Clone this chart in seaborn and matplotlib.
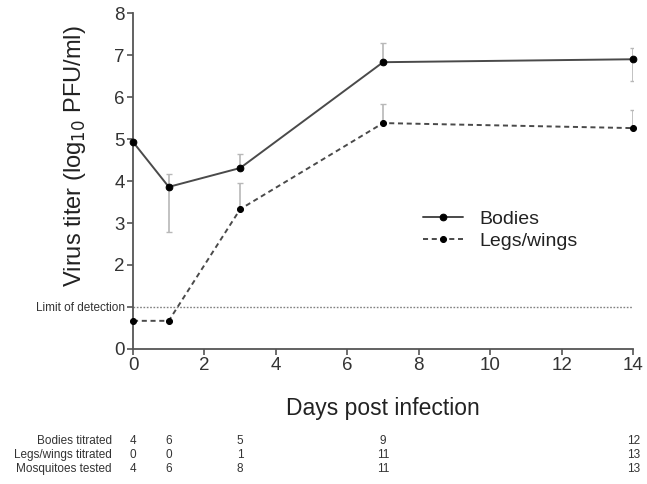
import numpy as np
import pandas as pd
import seaborn as sns
import matplotlib.pyplot as plt

# --- data ---
days = [0, 1, 3, 7, 14]
bodies = [4.93, 3.86, 4.31, 6.83, 6.90]
bodies_err_lo = [0.0, 1.07, 0.0, 0.0, 0.52]
bodies_err_hi = [0.0, 0.31, 0.33, 0.46, 0.26]
legs = [0.67, 0.67, 3.33, 5.38, 5.26]
legs_err_lo = [0.0, 0.0, 0.0, 0.0, 0.0]
legs_err_hi = [0.0, 0.0, 0.62, 0.45, 0.43]
limit_of_detection = 1.0

row_labels = ["Bodies titrated", "Legs/wings titrated", "Mosquitoes tested"]
bodies_titrated = [4, 6, 5, 9, 12]
legs_titrated = [0, 0, 1, 11, 13]
mosq_tested = [4, 6, 8, 11, 13]

sns.set_theme(style="ticks")
plt.rcParams['font.family'] = ['Liberation Sans', 'DejaVu Sans']

df = pd.DataFrame({
    'day': days * 2,
    'titer': bodies + legs,
    'sample': ['Bodies'] * len(days) + ['Legs/wings'] * len(days),
})

fig = plt.figure(figsize=(6.47, 4.84), dpi=100)
ax = fig.add_axes([0.2056, 0.279, 0.773, 0.694])

# error bars (light grey, drawn first)
ax.errorbar(days, bodies, yerr=[bodies_err_lo, bodies_err_hi], fmt='none',
            ecolor='#b8b8b8', elinewidth=1.2, capsize=2.2, capthick=1.0, zorder=2)
ax.errorbar(days, legs, yerr=[legs_err_lo, legs_err_hi], fmt='none',
            ecolor='#b8b8b8', elinewidth=1.2, capsize=2.2, capthick=1.0, zorder=2)

# limit of detection
ax.axhline(limit_of_detection, color='#808080', lw=1.0, ls=(0, (1.2, 1.2)), zorder=1)

sns.lineplot(data=df[df['sample'] == 'Bodies'], x='day', y='titer', ax=ax,
             color='#4a4a4a', lw=1.4, marker='o', markersize=4.8,
             markerfacecolor='black', markeredgecolor='black',
             label='Bodies', clip_on=False, zorder=3)
sns.lineplot(data=df[df['sample'] == 'Legs/wings'], x='day', y='titer', ax=ax,
             color='#4a4a4a', lw=1.4, marker='o', markersize=4.3,
             markerfacecolor='black', markeredgecolor='black',
             linestyle=(0, (2.6, 1.9)), label='Legs/wings', clip_on=False, zorder=3)

ax.set_xlim(0, 14)
ax.set_ylim(0, 8)
ax.set_xticks(range(0, 15, 2))
ax.set_yticks(range(0, 9))
ax.set_yticklabels(['0', 'Limit of detection'] + [str(i) for i in range(2, 9)])
for lab in ax.get_yticklabels():
    lab.set_fontsize(8.5 if lab.get_text() == 'Limit of detection' else 13.5)
    lab.set_color('#333333')
ax.tick_params(axis='x', labelsize=13.5, labelcolor='#333333')
ax.tick_params(length=4, width=1.2, color='#555555', direction='out', pad=2)

sns.despine(ax=ax)
for s in ['left', 'bottom']:
    ax.spines[s].set_color('#555555')
    ax.spines[s].set_linewidth(1.3)

ax.set_xlabel('Days post infection', fontsize=16.5, color='#222222')
ax.set_ylabel('Virus titer (log$_{10}$ PFU/ml)', fontsize=17, color='#222222')
ax.xaxis.set_label_coords(0.5, -0.143)
ax.yaxis.set_label_coords(-0.09, 0.575)

leg = ax.legend(loc='center left', bbox_to_anchor=(0.545, 0.354), frameon=False,
                fontsize=14, handlelength=2.05, handletextpad=0.85, labelspacing=0.25)
for t in leg.get_texts():
    t.set_color('#222222')

# table of sample sizes under the axis
rows = [bodies_titrated, legs_titrated, mosq_tested]
row_y = [0.089, 0.060, 0.032]
for label, vals, y in zip(row_labels, rows, row_y):
    fig.text(0.173, y, label, ha='right', va='center', fontsize=8.5, color='#333333')
    for d, v in zip(days, vals):
        xf = fig.transFigure.inverted().transform(ax.transData.transform((d, 0)))[0]
        fig.text(xf, y, str(v), ha='center', va='center', fontsize=8.5, color='#333333')

fig.savefig('out.png', dpi=100)
